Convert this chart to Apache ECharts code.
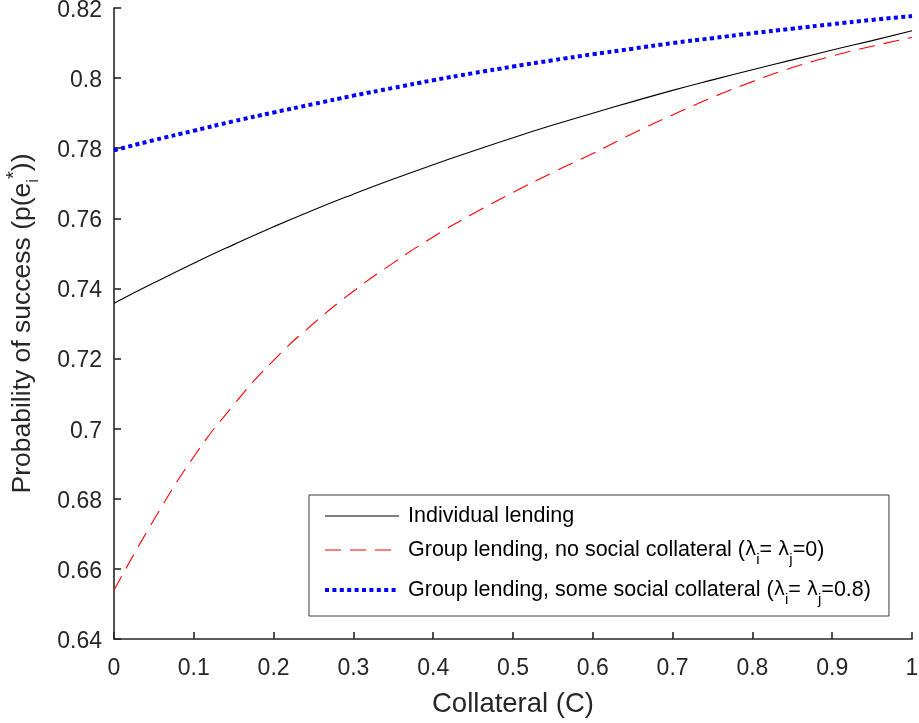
<!DOCTYPE html>
<html>
<head>
<meta charset="utf-8">
<script src="https://cdn.jsdelivr.net/npm/echarts@6/dist/echarts.min.js"></script>
<style>
  html, body { margin: 0; padding: 0; background: #fff; }
  #chart { width: 919px; height: 723px; }
</style>
</head>
<body>
<div id="chart"></div>
<script>
// collateral values (x)
var collateral = [0, 0.05, 0.1, 0.15, 0.2, 0.25, 0.3, 0.35, 0.4, 0.45, 0.5,
                  0.55, 0.6, 0.65, 0.7, 0.75, 0.8, 0.85, 0.9, 0.95, 1];

// individual lending
var individual = [0.7358, 0.7416, 0.7472, 0.7525, 0.7576, 0.7624, 0.7669, 0.7712, 0.7753, 0.7792, 0.7830,
                  0.7866, 0.7900, 0.7933, 0.7965, 0.7995, 0.8024, 0.8052, 0.8080, 0.8107, 0.8135];

// group lending, lambda = 0
var groupNone = [0.6539, 0.6740, 0.6920, 0.7068, 0.7195, 0.7300, 0.7392, 0.7473, 0.7547, 0.7613, 0.7674,
                 0.7731, 0.7785, 0.7842, 0.7895, 0.7945, 0.7990, 0.8030, 0.8063, 0.8091, 0.8116];

// group lending, lambda = 0.8
var groupSome = [0.7794, 0.7823, 0.7850, 0.7877, 0.7902, 0.7926, 0.7950, 0.7972, 0.7994, 0.8014, 0.8033,
                 0.8051, 0.8068, 0.8084, 0.8100, 0.8114, 0.8128, 0.8141, 0.8154, 0.8166, 0.8177];

var seriesNames = [
  'Individual lending',
  'Group lending, no social collateral (λi=λj=0)',
  'Group lending, some social collateral (λi=λj=0.8)'
];
// legend text with subscripts
var legendRich = {};
legendRich[seriesNames[0]] = '{t|Individual lending}';
legendRich[seriesNames[1]] = '{t|Group lending, no social collateral (}{l|λ}{s|i}{t|= }{l|λ}{s|j}{t|=0)}';
legendRich[seriesNames[2]] = '{t|Group lending, some social collateral (}{l|λ}{s|i}{t|= }{l|λ}{s|j}{t|=0.8)}';

function pairs(ys) {
  var out = [];
  for (var i = 0; i < collateral.length; i++) out.push([collateral[i], ys[i]]);
  return out;
}

function tickText(v) {
  return String(parseFloat(v.toFixed(2)));
}

var font = 'Liberation Sans, Arial, Helvetica, sans-serif';
var axisColor = '#262626';

var option = {
  animation: false,
  backgroundColor: '#fff',
  grid: { left: 114, right: 7, top: 8, bottom: 84, containLabel: false, outerBoundsMode: 'none' },
  legend: {
    orient: 'vertical',
    left: 309,
    top: 495,
    padding: [10, 18, 9, 14],
    itemGap: 12,
    itemWidth: 74,
    itemHeight: 14,
    backgroundColor: '#fff',
    borderColor: '#3a3a3a',
    borderWidth: 1,
    itemStyle: { opacity: 0 },
    data: [
      { name: seriesNames[0], lineStyle: { width: 1.1 } },
      { name: seriesNames[1], lineStyle: { width: 1.1 } },
      { name: seriesNames[2], lineStyle: { width: 4 } }
    ],
    formatter: function (name) { return legendRich[name]; },
    textStyle: {
      fontFamily: font,
      fontSize: 21.5,
      color: '#000',
      padding: [0, 0, 0, 4],
      rich: {
        t: { fontFamily: font, fontSize: 21.5, lineHeight: 29, color: '#000' },
        l: { fontFamily: 'DejaVu Sans, sans-serif', fontSize: 19, lineHeight: 29, color: '#000' },
        s: { fontFamily: font, fontSize: 15, lineHeight: 34, verticalAlign: 'bottom', color: '#000' }
      }
    }
  },
  xAxis: {
    type: 'value',
    min: 0,
    max: 1,
    interval: 0.1,
    name: 'Collateral (C)',
    nameLocation: 'middle',
    nameGap: 51,
    nameTextStyle: { fontFamily: font, fontSize: 27.5, color: axisColor },
    axisLine: { lineStyle: { color: axisColor, width: 1.6 } },
    axisTick: { inside: true, length: 7, lineStyle: { color: axisColor, width: 1.6 } },
    axisLabel: {
      fontFamily: font, fontSize: 23, color: axisColor, margin: 18,
      formatter: tickText
    },
    splitLine: { show: false }
  },
  yAxis: {
    type: 'value',
    min: 0.64,
    max: 0.82,
    interval: 0.02,
    name: 'Probability of success (p(e{sub|i}{sup|*}))',
    nameLocation: 'middle',
    nameGap: 72,
    nameRotate: 90,
    nameTextStyle: {
      fontFamily: font, fontSize: 26.5, color: axisColor,
      rich: {
        sub: { fontFamily: font, fontSize: 17, lineHeight: 38, verticalAlign: 'bottom', color: axisColor },
        sup: { fontFamily: font, fontSize: 20, lineHeight: 38, verticalAlign: 'top', color: axisColor }
      }
    },
    axisLine: { show: true, lineStyle: { color: axisColor, width: 1.6 } },
    axisTick: { show: true, inside: true, length: 7, lineStyle: { color: axisColor, width: 1.6 } },
    axisLabel: {
      fontFamily: font, fontSize: 23, color: axisColor, margin: 12,
      formatter: function (v) { return '{v|' + tickText(v) + '}'; },
      rich: {
        v: { fontFamily: font, fontSize: 23, color: axisColor, lineHeight: 26, padding: [5, 0, 0, 0] }
      }
    },
    splitLine: { show: false }
  },
  series: [
    {
      name: seriesNames[0],
      type: 'line',
      data: pairs(individual),
      symbol: 'none',
      smooth: true,
      lineStyle: { color: '#000', width: 1.1 },
      itemStyle: { color: '#000' },
      z: 3
    },
    {
      name: seriesNames[1],
      type: 'line',
      data: pairs(groupNone),
      symbol: 'none',
      smooth: true,
      lineStyle: { color: '#ff0000', width: 1.1, type: [16, 9] },
      itemStyle: { color: '#ff0000' },
      z: 2
    },
    {
      name: seriesNames[2],
      type: 'line',
      data: pairs(groupSome),
      symbol: 'none',
      smooth: true,
      lineStyle: { color: '#0000ff', width: 4, type: [4, 3.4], cap: 'butt' },
      itemStyle: { color: '#0000ff' },
      z: 4
    }
  ]
};

var myChart = echarts.init(document.getElementById('chart'));
myChart.setOption(option);
</script>
</body>
</html>
